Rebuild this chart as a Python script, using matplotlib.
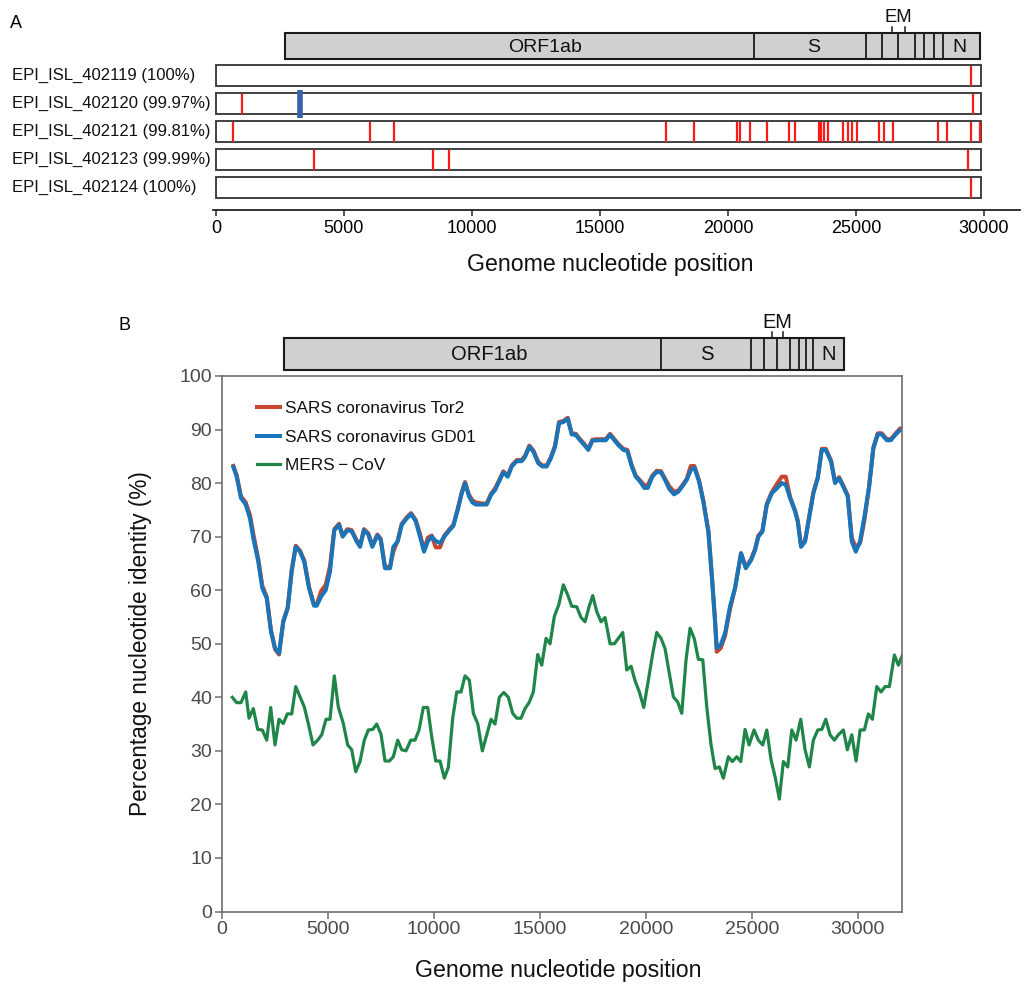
import matplotlib
matplotlib.use("Agg")
import matplotlib.pyplot as plt
from matplotlib.patches import Rectangle
from matplotlib.transforms import blended_transform_factory

plt.rcParams['font.family'] = ['Liberation Sans', 'DejaVu Sans']

# ---------------- Panel A data ----------------
samples = ["EPI_ISL_402119 (100%)", "EPI_ISL_402120 (99.97%)", "EPI_ISL_402121 (99.81%)",
           "EPI_ISL_402123 (99.99%)", "EPI_ISL_402124 (100%)"]
red_sites = [
    [29492],
    [1016, 29570],
    [677, 6030, 6953, 17590, 18684, 20371, 20488, 20871, 21511, 22395, 22629, 23566, 23645,
     23738, 23918, 24504, 24700, 24856, 25040, 25910, 26082, 26432, 28203, 28566, 29504, 29832],
    [3816, 8464, 9089, 29387],
    [29492],
]
blue_sites = [[], [3270], [], [], []]
genome_len_a = 29900
a_ticks = [0, 5000, 10000, 15000, 20000, 25000, 30000]

gene_bounds_a = [2700, 21016, 25379, 26004, 26652, 27305, 27656, 28059, 28387, 29844]
gene_names = ["ORF1ab", "S", "N"]
gene_text_x_a = [12852, 23332, 29023]
em_ticks_a = [26395, 26914]

# ---------------- Panel B data ----------------
gene_bounds_b = [2939, 20722, 24967, 25594, 26208, 26821, 27217, 27547, 27877, 29340]
gene_text_x_b = [12599, 22877, 28646]
em_ticks_b = [25972, 26476]

sars_pos = [550, 707, 910, 1132, 1335, 1491, 1726, 1915, 2123, 2325, 2514, 2703, 2906, 3113, 3302,
            3491, 3693, 3896, 4118, 4354, 4481, 4684, 4906, 5108, 5311, 5533, 5707, 5925, 6132, 6368,
            6524, 6712, 6915, 7104, 7340, 7500, 7703, 7939, 8094, 8302, 8491, 8726, 8929, 9151, 9354,
            9542, 9717, 9906, 10094, 10297, 10500, 10722, 10925, 11132, 11321, 11476, 11665, 11821,
            11981, 12264, 12500, 12703, 12892, 13080, 13283, 13491, 13679, 13915, 14151, 14307, 14509,
            14698, 14934, 15123, 15330, 15519, 15722, 15910, 16113, 16321, 16509, 16698, 16901, 17104,
            17292, 17481, 17689, 17925, 18113, 18316, 18519, 18708, 18943, 19132, 19340, 19528, 19731,
            19934, 20094, 20311, 20519, 20722, 20910, 21113, 21335, 21538, 21745, 21934, 22123, 22292,
            22514, 22717, 22953, 23113, 23269, 23349, 23538, 23741, 23976, 24212, 24495, 24717, 24967,
            25156, 25311, 25500, 25708, 25943, 26179, 26415, 26604, 26807, 27043, 27170, 27325, 27514,
            27703, 27906, 28113, 28302, 28491, 28741, 28929, 29118, 29321, 29528, 29717, 29906, 30109,
            30311, 30533, 30736, 30943, 31132, 31368, 31557, 31792, 31995, 32100]
gd01 = [83.0, 81.2, 77.2, 76.0, 73.4, 69.7, 65.3, 60.4, 58.5, 52.3, 49.2, 48.2, 54.1, 56.6, 63.5,
        68.1, 67.2, 65.3, 60.4, 57.1, 57.1, 58.8, 60.0, 63.5, 71.2, 72.2, 70.0, 71.2, 71.0, 69.1,
        68.1, 71.2, 70.4, 68.1, 70.2, 69.4, 64.1, 64.1, 68.1, 69.1, 72.2, 73.4, 74.2, 72.9, 70.0,
        67.2, 69.1, 70.0, 69.2, 68.8, 70.0, 71.1, 72.0, 75.0, 78.1, 80.0, 77.5, 76.4,
        76.0, 76.0, 76.0, 77.8, 78.7, 80.3, 82.0, 81.2, 83.1, 84.1, 84.1, 84.9, 86.8,
        85.9, 83.7, 83.1, 83.1, 84.6, 86.8, 91.2, 91.4, 92.0, 89.1, 89.0, 88.0, 87.1,
        86.2, 87.9, 88.0, 88.0, 88.0, 89.0, 88.0, 87.1, 86.2, 86.0, 83.1, 81.2, 80.3,
        79.1, 79.1, 81.2, 82.1, 82.0, 80.6, 78.9, 77.9, 78.4, 79.5, 80.6, 82.4, 82.9,
        80.3, 76.5, 70.9, 62.8, 54.1, 49.2, 49.8, 52.0, 57.0, 60.4, 66.9, 64.1, 65.6,
        67.5, 70.0, 70.9, 75.9, 78.1, 79.0, 80.0, 79.7, 77.2, 74.7, 72.8, 68.1, 69.1,
        73.4, 78.1, 80.9, 86.2, 86.2, 84.0, 80.0, 80.9, 79.3, 77.5, 69.1, 67.2, 69.1,
        73.7, 79.3, 86.5, 89.1, 89.1, 88.0, 88.0, 89.1, 89.9, 89.9]
tor2 = [83.2, 81.5, 77.5, 76.4, 74.0, 70.5, 65.8, 60.8, 58.8, 52.5, 49.0, 48.0, 54.3, 56.8, 63.8,
        68.3, 67.4, 65.5, 60.6, 57.3, 57.3, 59.8, 61.0, 64.5, 71.4, 72.4, 70.2, 71.4, 71.2, 69.3,
        68.3, 71.4, 70.6, 68.3, 70.4, 69.6, 64.3, 64.3, 67.2, 69.3, 72.4, 73.6, 74.4, 73.1, 70.5,
        67.4, 69.8, 70.2, 68.0, 68.0, 70.2, 71.3, 72.2, 75.2, 78.3, 80.2, 77.8, 76.8,
        76.4, 76.2, 76.2, 78.0, 79.0, 80.5, 82.2, 81.4, 83.3, 84.3, 84.3, 85.1, 87.0,
        86.1, 83.9, 83.3, 83.3, 84.8, 87.0, 91.4, 91.6, 92.2, 89.3, 89.2, 88.2, 87.3,
        86.4, 88.1, 88.2, 88.2, 88.2, 89.2, 88.2, 87.3, 86.4, 86.2, 83.3, 81.4, 80.5,
        79.6, 79.6, 81.4, 82.3, 82.2, 80.8, 79.4, 78.4, 78.6, 79.7, 80.8, 83.2, 83.2,
        80.5, 76.7, 71.1, 63.0, 54.3, 48.5, 49.2, 51.5, 56.5, 60.4, 66.9, 64.3, 65.8,
        67.7, 70.2, 71.1, 76.1, 78.3, 79.8, 81.2, 81.2, 77.4, 74.9, 73.0, 68.3, 69.3,
        73.6, 78.3, 81.1, 86.4, 86.4, 84.2, 80.2, 81.1, 79.5, 77.7, 69.8, 68.0, 68.8,
        73.0, 79.3, 86.7, 89.3, 89.3, 88.2, 88.2, 89.3, 90.2, 90.2]

mers_pos = [500, 707, 910, 1132, 1288, 1491, 1698, 1915, 2123, 2311, 2514, 2703, 2906, 3094, 3302,
            3491, 3693, 3896, 4085, 4307, 4528, 4717, 4920, 5108, 5311, 5500, 5736, 5943, 6132, 6321,
            6524, 6726, 6915, 7123, 7311, 7514, 7703, 7906, 8094, 8302, 8491, 8693, 8915, 9118, 9307,
            9509, 9717, 9906, 10094, 10297, 10500, 10689, 10896, 11085, 11288, 11476, 11679, 11868,
            12075, 12292, 12500, 12703, 12892, 13094, 13302, 13519, 13726, 13915, 14118, 14307, 14509,
            14698, 14906, 15094, 15297, 15486, 15689, 15900, 16113, 16321, 16509, 16745, 16948, 17137,
            17325, 17500, 17689, 17892, 18080, 18316, 18519, 18708, 18915, 19104, 19307, 19495, 19698,
            19906, 20123, 20330, 20519, 20722, 20910, 21113, 21302, 21509, 21698, 21901, 22090, 22292,
            22481, 22689, 22877, 23080, 23269, 23472, 23660, 23896, 24085, 24292, 24481, 24684, 24873,
            25108, 25311, 25519, 25708, 25910, 26099, 26302, 26491, 26698, 26887, 27090, 27311, 27514,
            27717, 27906, 28113, 28302, 28491, 28693, 28896, 29085, 29321, 29509, 29717, 29920, 30109,
            30311, 30500, 30689, 30896, 31099, 31288, 31491, 31726, 31915, 32100]
mers = [40.0, 39.0, 39.0, 41.0, 36.1, 37.9, 34.0, 33.9, 32.0, 38.1, 31.1, 35.9, 35.1, 36.9, 36.9,
        42.0, 40.1, 38.2, 35.1, 31.1, 32.0, 33.0, 35.9, 35.9, 44.0, 38.2, 35.1, 31.1, 30.2, 26.1,
        28.0, 32.0, 33.9, 34.0, 35.0, 33.1, 28.1, 28.1, 28.9, 32.0, 30.2, 30.0, 32.0, 32.0, 33.9,
        38.1, 38.1, 32.6, 28.1, 28.1, 24.9, 26.9, 36.1, 41.0, 41.0, 44.0, 43.2, 37.0,
        35.1, 30.0, 33.0, 35.9, 35.0, 40.0, 40.9, 40.0, 37.0, 36.1, 36.1, 37.9, 39.1,
        41.0, 48.0, 46.0, 51.0, 50.0, 55.1, 57.3, 61.0, 59.1, 57.0, 56.9, 54.9, 54.1,
        56.9, 59.0, 56.0, 54.1, 54.9, 50.0, 50.0, 51.0, 52.1, 45.1, 45.8, 43.1, 41.0,
        38.1, 43.2, 48.2, 52.1, 51.0, 49.1, 44.5, 40.1, 39.1, 37.0, 47.0, 52.9, 50.9,
        47.1, 47.0, 38.2, 31.1, 26.7, 27.0, 24.9, 28.9, 28.0, 28.9, 28.0, 34.0, 31.1,
        33.9, 32.0, 31.1, 33.9, 28.3, 25.2, 21.0, 28.0, 27.0, 33.9, 32.0, 35.9, 30.2,
        27.0, 32.0, 33.9, 34.0, 35.9, 33.0, 32.0, 33.0, 33.9, 30.2, 33.0, 28.1, 33.9,
        33.9, 36.9, 35.9, 42.0, 41.0, 42.0, 42.0, 47.9, 46.0, 47.8]

series_names = ["SARS coronavirus Tor2", "SARS coronavirus GD01", "MERS\u2009\u2212\u2009CoV"]
b_xticks = [0, 5000, 10000, 15000, 20000, 25000, 30000]
b_yticks = [0, 10, 20, 30, 40, 50, 60, 70, 80, 90, 100]

# ---------------- Figure ----------------
W, H = 1024, 985
fig = plt.figure(figsize=(W / 100, H / 100), dpi=100)


def fx(px):
    return px / W


def fy(py):
    return 1 - py / H


def genome_bar(ax, bounds, top, bottom, text_x, em, fs, em_fs):
    ax.add_patch(Rectangle((bounds[0], top), bounds[-1] - bounds[0], bottom - top,
                           facecolor='#d0d0d0', edgecolor='#1a1a1a', lw=1.5, clip_on=False, zorder=3))
    for b in bounds[1:-1]:
        ax.plot([b, b], [top, bottom], color='#1a1a1a', lw=1.3, clip_on=False, zorder=4)
    for name, x in zip(gene_names, text_x):
        ax.text(x, (top + bottom) / 2 + 1, name, ha='center', va='center', fontsize=fs,
                color='#111111', zorder=5, clip_on=False)
    for x in em:
        ax.plot([x, x], [top, top - 6], color='#1a1a1a', lw=1.1, clip_on=False)
    ax.text(sum(em) / 2, top - 15, "EM", ha='center', va='center', fontsize=em_fs,
            color='#111111', clip_on=False)


# ----- Panel A -----
axA = fig.add_axes([fx(213.4), fy(210), fx(1019.8) - fx(213.4), fy(5) - fy(210)])
axA.set_xlim(-100, 31400)
axA.set_ylim(210, 5)
for s in ['left', 'right', 'top']:
    axA.spines[s].set_visible(False)
axA.spines['bottom'].set_color('#222222')
axA.spines['bottom'].set_linewidth(1.3)
axA.set_yticks([])
axA.set_xticks(a_ticks)
axA.set_xticklabels([str(t) for t in a_ticks])
axA.tick_params(axis='x', direction='out', length=4, width=1.1, color='#222222',
                labelsize=13, pad=3)

row_h = 21
trans = blended_transform_factory(fig.transFigure, axA.transData)
for i, name in enumerate(samples):
    c = 75.8 + 28 * i
    axA.add_patch(Rectangle((0, c - row_h / 2), genome_len_a, row_h, facecolor='white',
                            edgecolor='#333333', lw=1.3, zorder=2))
    if red_sites[i]:
        axA.vlines(red_sites[i], c - row_h / 2 + 0.8, c + row_h / 2 - 0.8, color='#ff1a1a',
                   lw=1.6, zorder=3)
    if blue_sites[i]:
        axA.vlines(blue_sites[i], c - 14, c + 14, color='#3a5fae', lw=4, zorder=4)
    axA.text(fx(12), c, name, transform=trans, ha='left', va='center', fontsize=12, color='#111111')

genome_bar(axA, gene_bounds_a, 33, 59, gene_text_x_a, em_ticks_a, 14, 13.3)

axA.set_xlabel("Genome nucleotide position", fontsize=16.7, color='#111111')
axA.xaxis.label.set_va('center')
axA.xaxis.set_label_coords((610 - 213.4) / (1019.8 - 213.4), (210 - 265) / 205)

fig.text(fx(10), fy(24), "A", fontsize=13, ha='left', va='center')

# ----- Panel B -----
bl, br, bt, bb = 221.7, 902.3, 376, 911.5
axB = fig.add_axes([fx(bl), fy(bb), fx(br) - fx(bl), fy(bt) - fy(bb)])
axB.set_xlim(0, 32100)
axB.set_ylim(0, 100)
axB.plot(sars_pos, tor2, color='#c8462e', lw=2.9, label=series_names[0], solid_joinstyle='round')
axB.plot(sars_pos, gd01, color='#1a74b8', lw=2.9, label=series_names[1], solid_joinstyle='round')
axB.plot(mers_pos, mers, color='#1f8548', lw=2.3, label=series_names[2], solid_joinstyle='round')
for s in axB.spines.values():
    s.set_color('#6e6e6e')
    s.set_linewidth(1.2)
axB.set_xticks(b_xticks)
axB.set_xticklabels([str(t) for t in b_xticks])
axB.set_yticks(b_yticks)
axB.set_yticklabels([str(t) for t in b_yticks])
axB.tick_params(direction='out', length=5, width=1.1, color='#6e6e6e', labelcolor='#4a4a4a',
                labelsize=14, pad=2)
axB.set_xlabel("Genome nucleotide position", fontsize=16.7, color='#111111')
axB.xaxis.label.set_va('center')
axB.xaxis.set_label_coords((558 - bl) / (br - bl), (bb - 970) / (bb - bt))
axB.set_ylabel("Percentage nucleotide identity (%)", fontsize=16.3, color='#111111')
axB.yaxis.label.set_va('center')
axB.yaxis.set_label_coords((141 - bl) / (br - bl), 0.5)

leg = axB.legend(loc='upper left', bbox_to_anchor=((257 - bl) / (br - bl), (bb - 401) / (bb - bt)),
                 frameon=False, fontsize=12.4, handlelength=1.35, handletextpad=0.3,
                 labelspacing=0.78, borderpad=0, borderaxespad=0)
for t in leg.get_texts():
    t.set_color('#111111')

axBar = fig.add_axes([fx(bl), fy(372), fx(br) - fx(bl), fy(305) - fy(372)])
axBar.set_xlim(0, 32100)
axBar.set_ylim(372, 305)
axBar.axis('off')
genome_bar(axBar, gene_bounds_b, 338, 370, gene_text_x_b, em_ticks_b, 14.6, 14.4)

fig.text(fx(118), fy(325), "B", fontsize=13, ha='left', va='center')

fig.savefig("out.png", dpi=100)
